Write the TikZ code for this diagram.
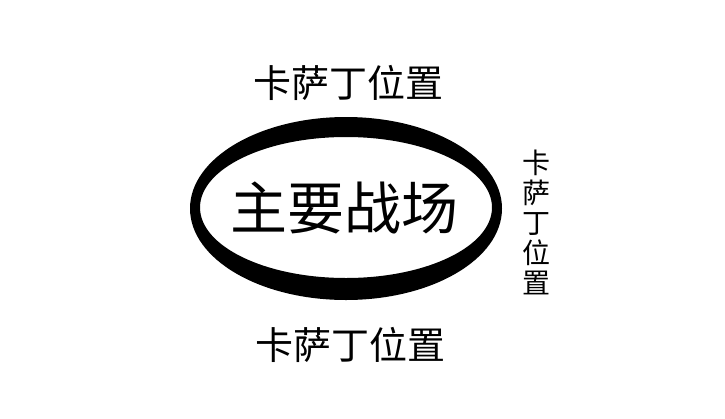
\documentclass[tikz,border=0pt]{standalone}
\usepackage{fontspec}
\newfontfamily\cjk{Noto Sans CJK SC}
\begin{document}
\begin{tikzpicture}[x=1pt,y=-1pt]
\useasboundingbox (0,0) rectangle (725,418);
\fill[even odd rule] (346,208.5) ellipse [x radius=156pt, y radius=91.5pt] (346,207.5) ellipse [x radius=146pt, y radius=70.5pt];
\begin{scope}[every node/.style={inner sep=0pt}]
  \node[font=\cjk\fontsize{57}{60}\selectfont] (main) at (344,208) {主要战场};
  \node[font=\cjk\fontsize{38}{40}\selectfont] (top) at (348,83) {卡萨丁位置};
  \node[font=\cjk\fontsize{38}{40}\selectfont] (bottom) at (350,345) {卡萨丁位置};
  \node[align=center, font=\cjk\fontsize{28}{30}\selectfont] (right) at (536,222) {卡\\萨\\丁\\位\\置};
\end{scope}
\end{tikzpicture}
\end{document}
